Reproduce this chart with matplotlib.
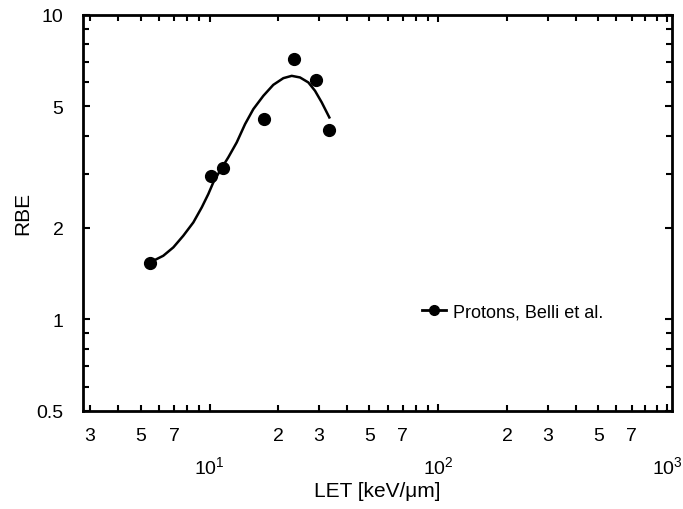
import numpy as np
import matplotlib
matplotlib.use("Agg")
import matplotlib.pyplot as plt
from matplotlib.ticker import FixedLocator, FixedFormatter, NullFormatter

plt.rcParams['font.family'] = ['Liberation Sans', 'DejaVu Sans']
plt.rcParams['mathtext.default'] = 'regular'

# measured points (LET keV/um, RBE)
let_pts = [5.5, 10.15, 11.45, 17.3, 23.4, 29.2, 33.3]
rbe_pts = [1.53, 2.95, 3.13, 4.54, 7.15, 6.10, 4.18]

# fitted curve
let_curve = [5.68, 6.28, 6.95, 7.68, 8.50, 9.25, 9.88, 10.39, 11.11, 12.08, 13.15,
             14.30, 15.54, 17.19, 19.00, 21.02, 22.87, 24.86, 27.03, 28.91, 30.93, 33.39]
rbe_curve = [1.555, 1.615, 1.721, 1.879, 2.079, 2.329, 2.576, 2.814, 3.072, 3.400, 3.808,
             4.373, 4.898, 5.418, 5.887, 6.192, 6.301, 6.225, 5.995, 5.627, 5.154, 4.600]

label = "Protons, Belli et al."

fig = plt.figure(figsize=(6.83, 5.10), dpi=100)
ax = fig.add_axes([0.1215, 0.1927, 0.8625, 0.7763])

ax.plot(let_curve, rbe_curve, '-', color='black', lw=1.8, solid_joinstyle='round')
ax.plot(let_pts, rbe_pts, 'o', color='black', ms=8.5)

ax.set_xscale('log')
ax.set_yscale('log')
ax.set_xlim(2.8, 1050)
ax.set_ylim(0.5, 10)

# x ticks: decades on a second row, 2 3 5 7 on the first row
ax.xaxis.set_major_locator(FixedLocator([10, 100, 1000]))
ax.xaxis.set_major_formatter(FixedFormatter(['$10^1$', '$10^2$', '$10^3$']))
minors = [m * d for d in (1, 10, 100) for m in range(2, 10)]
minors = [v for v in minors if v >= 3]
mlabels = []
for v in minors:
    m = int(round(v / 10 ** np.floor(np.log10(v))))
    mlabels.append(str(m) if m in (2, 3, 5, 7) else '')
ax.xaxis.set_minor_locator(FixedLocator(minors))
ax.xaxis.set_minor_formatter(FixedFormatter(mlabels))

ax.yaxis.set_major_locator(FixedLocator([0.5, 1, 2, 5, 10]))
ax.yaxis.set_major_formatter(FixedFormatter(['0.5', '1', '2', '5', '10']))
ax.yaxis.set_minor_locator(FixedLocator([0.6, 0.7, 0.8, 0.9, 3, 4, 6, 7, 8, 9]))
ax.yaxis.set_minor_formatter(NullFormatter())

ax.tick_params(which='both', direction='in', top=True, right=True, width=1.5, color='black')
ax.tick_params(which='major', length=5)
ax.tick_params(which='minor', length=4)
ax.tick_params(axis='x', which='minor', pad=12, labelsize=14)
ax.tick_params(axis='x', which='major', pad=32, labelsize=14)
ax.tick_params(axis='y', which='major', pad=14, labelsize=14)

for s in ax.spines.values():
    s.set_linewidth(2)

ax.set_xlabel('LET [keV/\u03bcm]', fontsize=15, labelpad=3)
ax.set_ylabel('RBE', fontsize=15, labelpad=3)

ax.plot([], [], 'o-', color='black', ms=7, lw=2, label=label)
ax.legend(loc='center left', bbox_to_anchor=(0.548, 0.25), frameon=False,
          fontsize=13, handlelength=1.3, handletextpad=0.4)

fig.savefig('out.png', dpi=100)
